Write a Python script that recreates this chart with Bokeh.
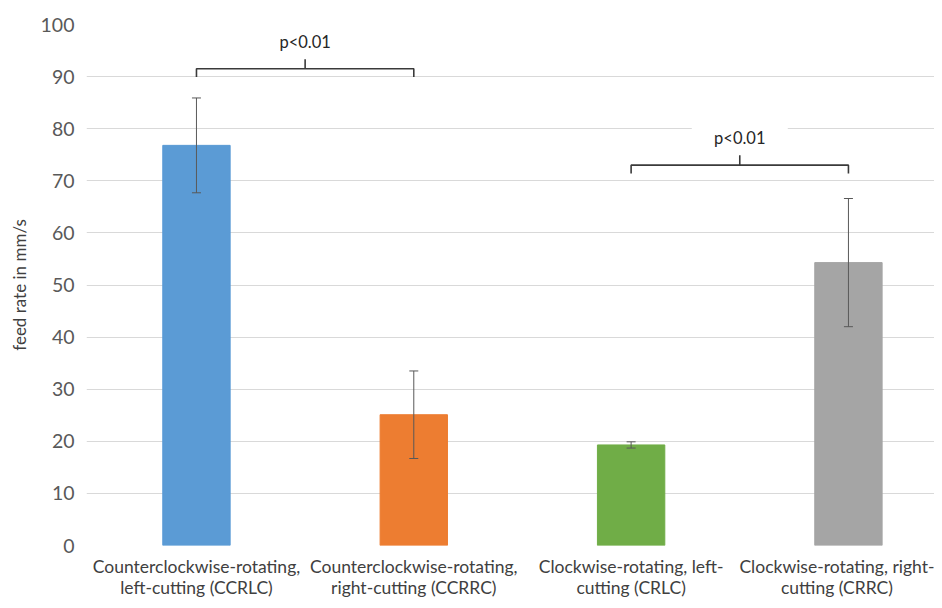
from bokeh.plotting import figure
from bokeh.models import ColumnDataSource, Range1d, FixedTicker, Whisker, TeeHead
from bokeh.core.properties import value
from bokeh.embed import file_html
from bokeh.resources import INLINE

categories = ["Counterclockwise-rotating,\nleft-cutting (CCRLC)",
              "Counterclockwise-rotating,\nright-cutting (CCRRC)",
              "Clockwise-rotating, left-\ncutting (CRLC)",
              "Clockwise-rotating, right-\ncutting (CRRC)"]
feed_rate = [76.8, 25.1, 19.3, 54.3]
feed_err = [9.1, 8.4, 0.6, 12.3]
colors = ["#5B9BD5", "#ED7D31", "#70AD47", "#A5A5A5"]
y_ticks = [0, 10, 20, 30, 40, 50, 60, 70, 80, 90, 100]

# significance brackets: pair of bar indexes, bracket level, label
bracket_pairs = [(0, 1), (2, 3)]
bracket_levels = [91.5, 73.0]
bracket_drop = 1.6
bracket_tick = 1.9
p_labels = ["p<0.01", "p<0.01"]
p_label_y = [96.6, 78.2]

xs = list(range(len(categories)))
src = ColumnDataSource(dict(
    x=xs, top=feed_rate, color=colors,
    upper=[v + e for v, e in zip(feed_rate, feed_err)],
    lower=[v - e for v, e in zip(feed_rate, feed_err)],
))

p = figure(width=934, height=600, output_backend="svg", toolbar_location=None,
           x_range=Range1d(-0.506, 3.396), y_range=Range1d(0, 100),
           min_border_left=86, min_border_right=0, min_border_top=24, min_border_bottom=49)
p.outline_line_color = None
p.background_fill_color = "white"
p.border_fill_color = "white"

p.vbar(x="x", top="top", width=0.31, bottom=0, color="color", source=src)

w = Whisker(base="x", upper="upper", lower="lower", source=src, level="overlay",
            line_color="#595959", line_width=1,
            upper_head=TeeHead(size=9, line_color="#595959", line_width=1),
            lower_head=TeeHead(size=9, line_color="#595959", line_width=1))
p.add_layout(w)

# brackets
bx, by = [], []
for (a, b), lev in zip(bracket_pairs, bracket_levels):
    bx.append([a, a, b, b]); by.append([lev - bracket_drop, lev, lev, lev - bracket_drop])
    mid = (a + b) / 2
    bx.append([mid, mid]); by.append([lev, lev + bracket_tick])
p.multi_line(bx, by, line_color="#3a3a3a", line_width=1.6)

mids = [(a + b) / 2 for a, b in bracket_pairs]
p.rect(x=mids, y=p_label_y, width=96, height=34, width_units="screen", height_units="screen",
       fill_color="white", line_color=None)
p.text(x=mids, y=p_label_y, text=p_labels, text_align="center", text_baseline="middle",
       text_font=value("Lato"), text_font_size="16.5px", text_color="#262626")

p.xgrid.visible = False
p.ygrid.grid_line_color = "#d9d9d9"
p.ygrid.grid_line_width = 1

p.yaxis.ticker = FixedTicker(ticks=y_ticks)
p.yaxis.axis_line_color = None
p.yaxis.major_tick_line_color = None
p.yaxis.minor_tick_line_color = None
p.yaxis.major_label_text_font = "Lato"
p.yaxis.major_label_text_font_size = "19.5px"
p.yaxis.major_label_text_color = "#595959"
p.yaxis.major_label_standoff = 6
p.yaxis.axis_label = "feed rate in mm/s"
p.yaxis.axis_label_text_font = "Lato"
p.yaxis.axis_label_text_font_size = "17px"
p.yaxis.axis_label_text_font_style = "normal"
p.yaxis.axis_label_text_color = "#404040"
p.yaxis.axis_label_standoff = 8

p.xaxis.ticker = FixedTicker(ticks=xs)
p.xaxis.major_label_overrides = {i: c for i, c in zip(xs, categories)}
p.xaxis.axis_line_color = None
p.xaxis.major_tick_line_color = None
p.xaxis.minor_tick_line_color = None
p.xaxis.major_label_text_font = "Lato"
p.xaxis.major_label_text_font_size = "17.5px"
p.xaxis.major_label_text_color = "#404040"
p.xaxis.major_label_text_line_height = 1.0
p.xaxis.major_label_standoff = 4

open("out.html", "w").write(file_html(p, INLINE))
